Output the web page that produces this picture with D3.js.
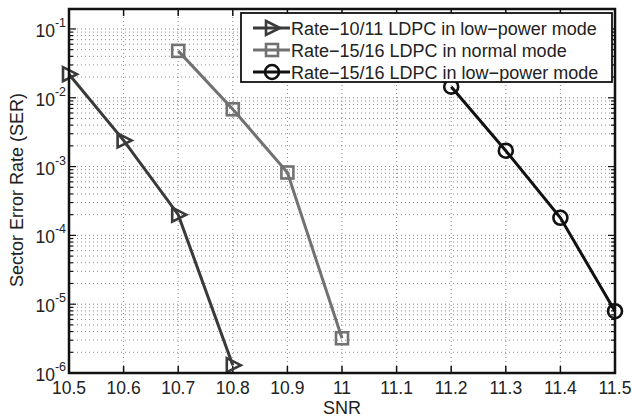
<!DOCTYPE html>
<html>
<head>
<meta charset="utf-8">
<script src="https://cdn.jsdelivr.net/npm/d3@7"></script>
<style>
  body { margin: 0; background: #fff; }
  svg { font-family: "Liberation Sans", Arial, sans-serif; }
</style>
</head>
<body>
<div id="chart-area"></div>
<script>
// SNR values and sector error rates
var snrLow1011 = [10.5, 10.6, 10.7, 10.8];
var serLow1011 = [0.022, 0.0024, 2.0e-4, 1.3e-6];

var snrNorm1516 = [10.7, 10.8, 10.9, 11.0];
var serNorm1516 = [0.048, 0.0068, 8.2e-4, 3.2e-6];

var snrLow1516 = [11.2, 11.3, 11.4, 11.5];
var serLow1516 = [0.0145, 0.0017, 1.8e-4, 7.9e-6];

var seriesNames = [
    "Rate\u221210/11 LDPC in low\u2212power mode",
    "Rate\u221215/16 LDPC in normal mode",
    "Rate\u221215/16 LDPC in low\u2212power mode"
];
var xTicks = [10.5, 10.6, 10.7, 10.8, 10.9, 11, 11.1, 11.2, 11.3, 11.4, 11.5];
var yExponents = [-6, -5, -4, -3, -2, -1];

var series = [
    { name: seriesNames[0], x: snrLow1011, y: serLow1011, color: "#3a3a3a", marker: "tri" },
    { name: seriesNames[1], x: snrNorm1516, y: serNorm1516, color: "#727272", marker: "square" },
    { name: seriesNames[2], x: snrLow1516, y: serLow1516, color: "#111111", marker: "circle" }
];

var width = 632, height = 420;
var plotLeft = 69, plotRight = 615, plotTop = 9, plotBottom = 373;

var svg = d3.select("#chart-area").append("svg")
    .attr("width", width)
    .attr("height", height);

var x = d3.scaleLinear().domain([10.5, 11.5]).range([plotLeft, plotRight]);
var y = d3.scaleLog().domain([1e-6, 0.195]).range([plotBottom, plotTop]);

// grid
var grid = svg.append("g").attr("class", "grid");
grid.selectAll("line.vx")
    .data(xTicks.slice(1, -1))
    .enter().append("line")
    .attr("class", "vx")
    .attr("x1", function (d) { return x(d); })
    .attr("x2", function (d) { return x(d); })
    .attr("y1", plotTop)
    .attr("y2", plotBottom)
    .attr("stroke", "#888")
    .attr("stroke-width", 1)
    .attr("stroke-dasharray", "1,3");

var minorVals = [];
for (var e = -6; e <= -1; e++) {
    for (var k = 1; k <= 9; k++) {
        var v = k * Math.pow(10, e);
        if (v > 1e-6 && v < 0.195) minorVals.push(v);
    }
}
grid.selectAll("line.hy")
    .data(minorVals)
    .enter().append("line")
    .attr("class", "hy")
    .attr("x1", plotLeft)
    .attr("x2", plotRight)
    .attr("y1", function (d) { return y(d); })
    .attr("y2", function (d) { return y(d); })
    .attr("stroke", "#8a8a8a")
    .attr("stroke-width", 1)
    .attr("stroke-dasharray", "1,3");

// ticks (inside)
var ticks = svg.append("g");
xTicks.forEach(function (t) {
    ticks.append("line").attr("x1", x(t)).attr("x2", x(t)).attr("y1", plotBottom).attr("y2", plotBottom - 7)
        .attr("stroke", "#111").attr("stroke-width", 1.5);
    ticks.append("line").attr("x1", x(t)).attr("x2", x(t)).attr("y1", plotTop).attr("y2", plotTop + 7)
        .attr("stroke", "#111").attr("stroke-width", 1.5);
});
minorVals.forEach(function (v) {
    var major = Math.abs(Math.log10(v) - Math.round(Math.log10(v))) < 1e-9;
    var len = major ? 7 : 4;
    ticks.append("line").attr("x1", plotLeft).attr("x2", plotLeft + len).attr("y1", y(v)).attr("y2", y(v))
        .attr("stroke", "#111").attr("stroke-width", 1.2);
    ticks.append("line").attr("x1", plotRight).attr("x2", plotRight - len).attr("y1", y(v)).attr("y2", y(v))
        .attr("stroke", "#111").attr("stroke-width", 1.2);
});

// tick labels
svg.selectAll("text.xt")
    .data(xTicks)
    .enter().append("text")
    .attr("class", "xt")
    .attr("x", function (d) { return x(d); })
    .attr("y", 394)
    .attr("text-anchor", "middle")
    .attr("font-size", "17.5px")
    .attr("fill", "#222")
    .text(function (d) { return d3.format("")(d); });

var yt = svg.selectAll("text.yt")
    .data(yExponents)
    .enter().append("text")
    .attr("class", "yt")
    .attr("x", 66)
    .attr("y", function (d) { return y(Math.pow(10, d)) + 8; })
    .attr("text-anchor", "end")
    .attr("font-size", "17.5px")
    .attr("fill", "#222");
yt.append("tspan").text("10");
yt.append("tspan")
    .attr("dy", -10)
    .attr("font-size", "12.5px")
    .text(function (d) { return "-" + Math.abs(d); });

// axis labels
svg.append("text")
    .attr("x", (plotLeft + plotRight) / 2)
    .attr("y", 414)
    .attr("text-anchor", "middle")
    .attr("font-size", "18px")
    .attr("fill", "#222")
    .text("SNR");

svg.append("text")
    .attr("transform", "translate(23,190) rotate(-90)")
    .attr("text-anchor", "middle")
    .attr("font-size", "18px")
    .attr("fill", "#222")
    .text("Sector Error Rate (SER)");

// markers
function drawMarker(g, type, cx, cy, color) {
    if (type === "tri") {
        g.append("path")
            .attr("d", "M" + (cx - 6) + "," + (cy - 7) + "L" + (cx + 8) + "," + cy + "L" + (cx - 6) + "," + (cy + 7) + "Z")
            .attr("fill", "none").attr("stroke", color).attr("stroke-width", 2.6)
            .attr("stroke-linejoin", "miter");
    } else if (type === "square") {
        g.append("rect")
            .attr("x", cx - 6).attr("y", cy - 6).attr("width", 12).attr("height", 12)
            .attr("fill", "none").attr("stroke", color).attr("stroke-width", 2.6);
    } else {
        g.append("circle")
            .attr("cx", cx).attr("cy", cy).attr("r", 7)
            .attr("fill", "none").attr("stroke", color).attr("stroke-width", 2.6);
    }
}

var line = d3.line()
    .x(function (d) { return x(d[0]); })
    .y(function (d) { return y(d[1]); });

series.forEach(function (s) {
    var pts = d3.zip(s.x, s.y);
    var g = svg.append("g");
    g.append("path")
        .datum(pts)
        .attr("d", line)
        .attr("fill", "none")
        .attr("stroke", s.color)
        .attr("stroke-width", 3);
    pts.forEach(function (p) {
        drawMarker(g, s.marker, x(p[0]), y(p[1]), s.color);
    });
});

// axes box
svg.append("rect")
    .attr("x", plotLeft).attr("y", plotTop)
    .attr("width", plotRight - plotLeft).attr("height", plotBottom - plotTop)
    .attr("fill", "none")
    .attr("stroke", "#111")
    .attr("stroke-width", 2.5);

// legend
var legend = svg.append("g");
legend.append("rect")
    .attr("x", 241).attr("y", 13)
    .attr("width", 371).attr("height", 69)
    .attr("fill", "#fff")
    .attr("stroke", "#111")
    .attr("stroke-width", 1.8);

series.forEach(function (s, i) {
    var ly = 28 + i * 22;
    legend.append("line")
        .attr("x1", 253).attr("x2", 290)
        .attr("y1", ly).attr("y2", ly)
        .attr("stroke", s.color).attr("stroke-width", 3);
    drawMarker(legend, s.marker, 272, ly, s.color);
    legend.append("text")
        .attr("x", 291)
        .attr("y", ly + 6.5)
        .attr("font-size", "18px")
        .attr("fill", "#222")
        .text(s.name);
});
</script>
</body>
</html>
